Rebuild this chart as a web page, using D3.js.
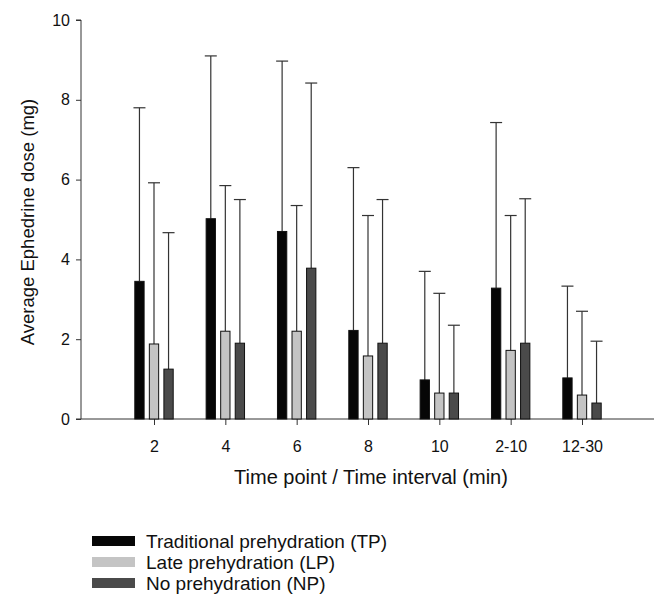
<!DOCTYPE html>
<html>
<head>
<meta charset="utf-8">
<script src="https://cdn.jsdelivr.net/npm/d3@7"></script>
<style>
  body { margin: 0; background: #fff; }
  text { font-family: "Liberation Sans", Arial, sans-serif; fill: #111; }
</style>
</head>
<body>
<svg id="chart" width="654" height="597"></svg>
<script>
// time points / intervals
const categories = ["2", "4", "6", "8", "10", "2-10", "12-30"]
const groups = ["TP", "LP", "NP"]
const groupNames = ["Traditional prehydration (TP)", "Late prehydration (LP)", "No prehydration (NP)"]

// mean dose and mean + SD (top of error bar)
const tpMean = [3.45, 5.02, 4.70, 2.22, 0.98, 3.28, 1.03]
const tpUpper = [7.80, 9.10, 8.97, 6.30, 3.70, 7.43, 3.33]
const lpMean = [1.88, 2.20, 2.20, 1.58, 0.65, 1.72, 0.60]
const lpUpper = [5.92, 5.85, 5.35, 5.10, 3.15, 5.10, 2.70]
const npMean = [1.25, 1.90, 3.78, 1.90, 0.65, 1.90, 0.40]
const npUpper = [4.67, 5.50, 8.42, 5.50, 2.35, 5.52, 1.95]

const yTicks = [0, 2, 4, 6, 8, 10]

const fills = { TP: "#060606", LP: "#c4c4c4", NP: "#4a4a4a" }

const svg = d3.select("#chart")
const mLeft = 81, mRight = 655, mTop = 20, mBottom = 419

// rows for drawing
let rows = []
categories.forEach((c, i) => {
    rows.push({ cat: c, g: "TP", mean: tpMean[i], upper: tpUpper[i] })
    rows.push({ cat: c, g: "LP", mean: lpMean[i], upper: lpUpper[i] })
    rows.push({ cat: c, g: "NP", mean: npMean[i], upper: npUpper[i] })
})

const y = d3.scaleLinear().domain([0, 10]).range([mBottom, mTop])
const x = d3.scalePoint().domain(categories).range([154, 582])
const xg = d3.scaleBand().domain(groups).range([-19.2, 19.2]).paddingInner(0.36)

// y axis
const yAxis = svg.append("g")
    .attr("transform", "translate(" + mLeft + ",0)")
    .call(d3.axisLeft(y).tickValues(yTicks).tickSize(5).tickPadding(6))
yAxis.select(".domain").attr("stroke", "#333").attr("d", "M-5," + mTop + "H0V" + mBottom + "H-5")
yAxis.selectAll(".tick line").attr("stroke", "#333")
yAxis.selectAll(".tick text").style("font-size", "16px").attr("fill", "#111")

// x axis
const xAxis = svg.append("g")
    .attr("transform", "translate(0," + mBottom + ")")
    .call(d3.axisBottom(x).tickSize(6).tickPadding(16))
xAxis.select(".domain").attr("stroke", "#333").attr("d", "M" + mLeft + ",0H" + mRight)
xAxis.selectAll(".tick line").attr("stroke", "#333")
xAxis.selectAll(".tick text").style("font-size", "16px").attr("fill", "#111")

// error bars
const eb = svg.append("g").selectAll("g").data(rows).enter().append("g")
eb.append("line")
    .attr("x1", d => x(d.cat) + xg(d.g) + xg.bandwidth() / 2)
    .attr("x2", d => x(d.cat) + xg(d.g) + xg.bandwidth() / 2)
    .attr("y1", d => y(d.mean))
    .attr("y2", d => y(d.upper))
    .attr("stroke", "#333").attr("stroke-width", 1.2)
eb.append("line")
    .attr("x1", d => x(d.cat) + xg(d.g) + xg.bandwidth() / 2 - 6)
    .attr("x2", d => x(d.cat) + xg(d.g) + xg.bandwidth() / 2 + 6)
    .attr("y1", d => y(d.upper))
    .attr("y2", d => y(d.upper))
    .attr("stroke", "#333").attr("stroke-width", 1.2)

// bars
svg.append("g").selectAll("rect").data(rows).enter().append("rect")
    .attr("x", d => x(d.cat) + xg(d.g))
    .attr("y", d => y(d.mean))
    .attr("width", xg.bandwidth())
    .attr("height", d => y(0) - y(d.mean))
    .attr("fill", d => fills[d.g])
    .attr("stroke", "#111").attr("stroke-width", 1)

// axis titles
svg.append("text")
    .attr("transform", "translate(34,222) rotate(-90)")
    .attr("text-anchor", "middle")
    .style("font-size", "18.5px")
    .text("Average Ephedrine dose (mg)")
svg.append("text")
    .attr("x", 371).attr("y", 484)
    .attr("text-anchor", "middle")
    .style("font-size", "20px")
    .text("Time point / Time interval (min)")

// legend
const leg = svg.append("g").selectAll("g").data(groups).enter().append("g")
    .attr("transform", (d, i) => "translate(92," + (541 + i * 21) + ")")
leg.append("rect")
    .attr("y", -5).attr("width", 43).attr("height", 10)
    .attr("fill", d => fills[d])
leg.append("text")
    .attr("x", 54).attr("y", 7)
    .style("font-size", "19px")
    .text((d, i) => groupNames[i])
</script>
</body>
</html>
